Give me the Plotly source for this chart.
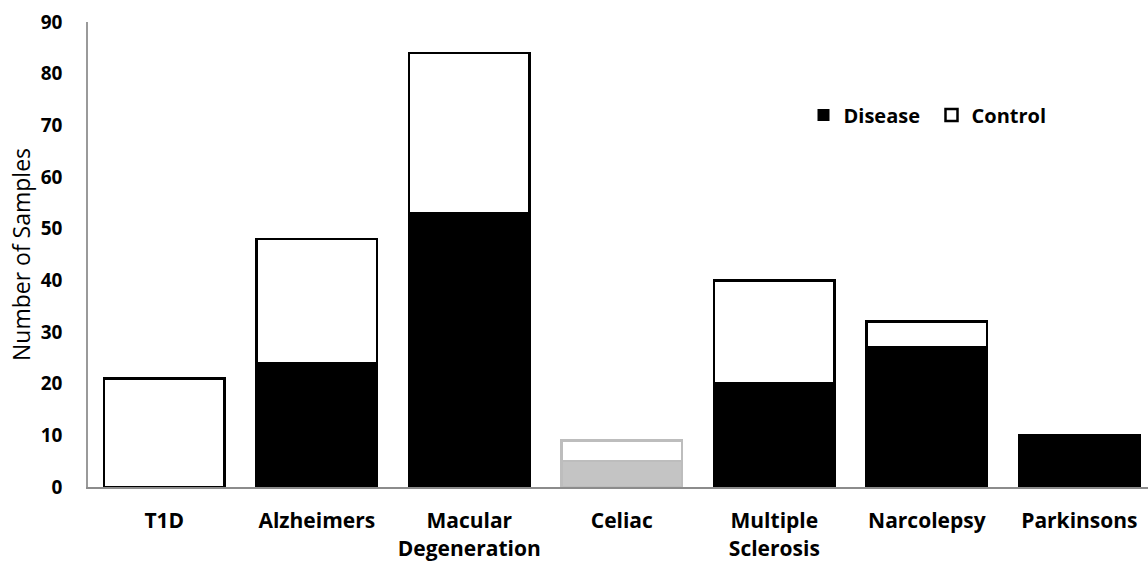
import plotly.graph_objects as go

categories = ["T1D", "Alzheimers", "Macular<br>Degeneration", "Celiac",
              "Multiple<br>Sclerosis", "Narcolepsy", "Parkinsons"]
disease = [0, 24, 53, 5, 20, 27, 10]
control = [21, 24, 31, 4, 20, 5, 0]
y_ticks = [0, 10, 20, 30, 40, 50, 60, 70, 80, 90]

# Celiac is drawn in grey, all other groups in black
disease_fill = ["black"] * 7
disease_fill[3] = "#c4c4c4"
outline = ["black"] * 7
outline[3] = "#bdbdbd"

# no outline on empty segments
disease_lw = [2.5 if v > 0 else 0 for v in disease]
control_lw = [2.5 if v > 0 else 0 for v in control]

font_family = "'Open Sans', sans-serif"

fig = go.Figure()
fig.add_trace(go.Bar(
    x=categories, y=disease, name="Disease",
    marker=dict(color=disease_fill, line=dict(color=outline, width=disease_lw)),
    width=0.79,
))
fig.add_trace(go.Bar(
    x=categories, y=control, name="Control",
    marker=dict(color="white", line=dict(color=outline, width=control_lw)),
    width=0.79,
))

fig.update_layout(
    barmode="stack",
    width=1148, height=561,
    margin=dict(l=88, r=0, t=22, b=74),
    plot_bgcolor="white", paper_bgcolor="white",
    font=dict(family=font_family, color="black", size=19),
    showlegend=True,
    legend=dict(
        orientation="h", x=0.675, y=0.8, xanchor="left", yanchor="middle",
        font=dict(size=20, family=font_family, weight="bold"),
        traceorder="normal", itemwidth=30, bgcolor="rgba(0,0,0,0)",
        entrywidth=83, entrywidthmode="pixels",
    ),
)
fig.update_xaxes(
    type="category", range=[-0.5, 6.45],
    showline=True, linecolor="#8c8c8c", linewidth=2, layer="above traces",
    ticks="", tickfont=dict(size=21, family=font_family, weight="bold"),
    ticklabelstandoff=14,
)
fig.update_yaxes(
    range=[0, 90], tickvals=y_ticks, showgrid=False, zeroline=False,
    showline=True, linecolor="#9a9a9a", linewidth=1.5,
    ticks="", tickfont=dict(size=19, family=font_family, weight="bold"),
    ticklabelstandoff=20,
    title=dict(text="Number of Samples", standoff=4,
               font=dict(size=23, family=font_family)),
)

fig.write_html("out.html")
